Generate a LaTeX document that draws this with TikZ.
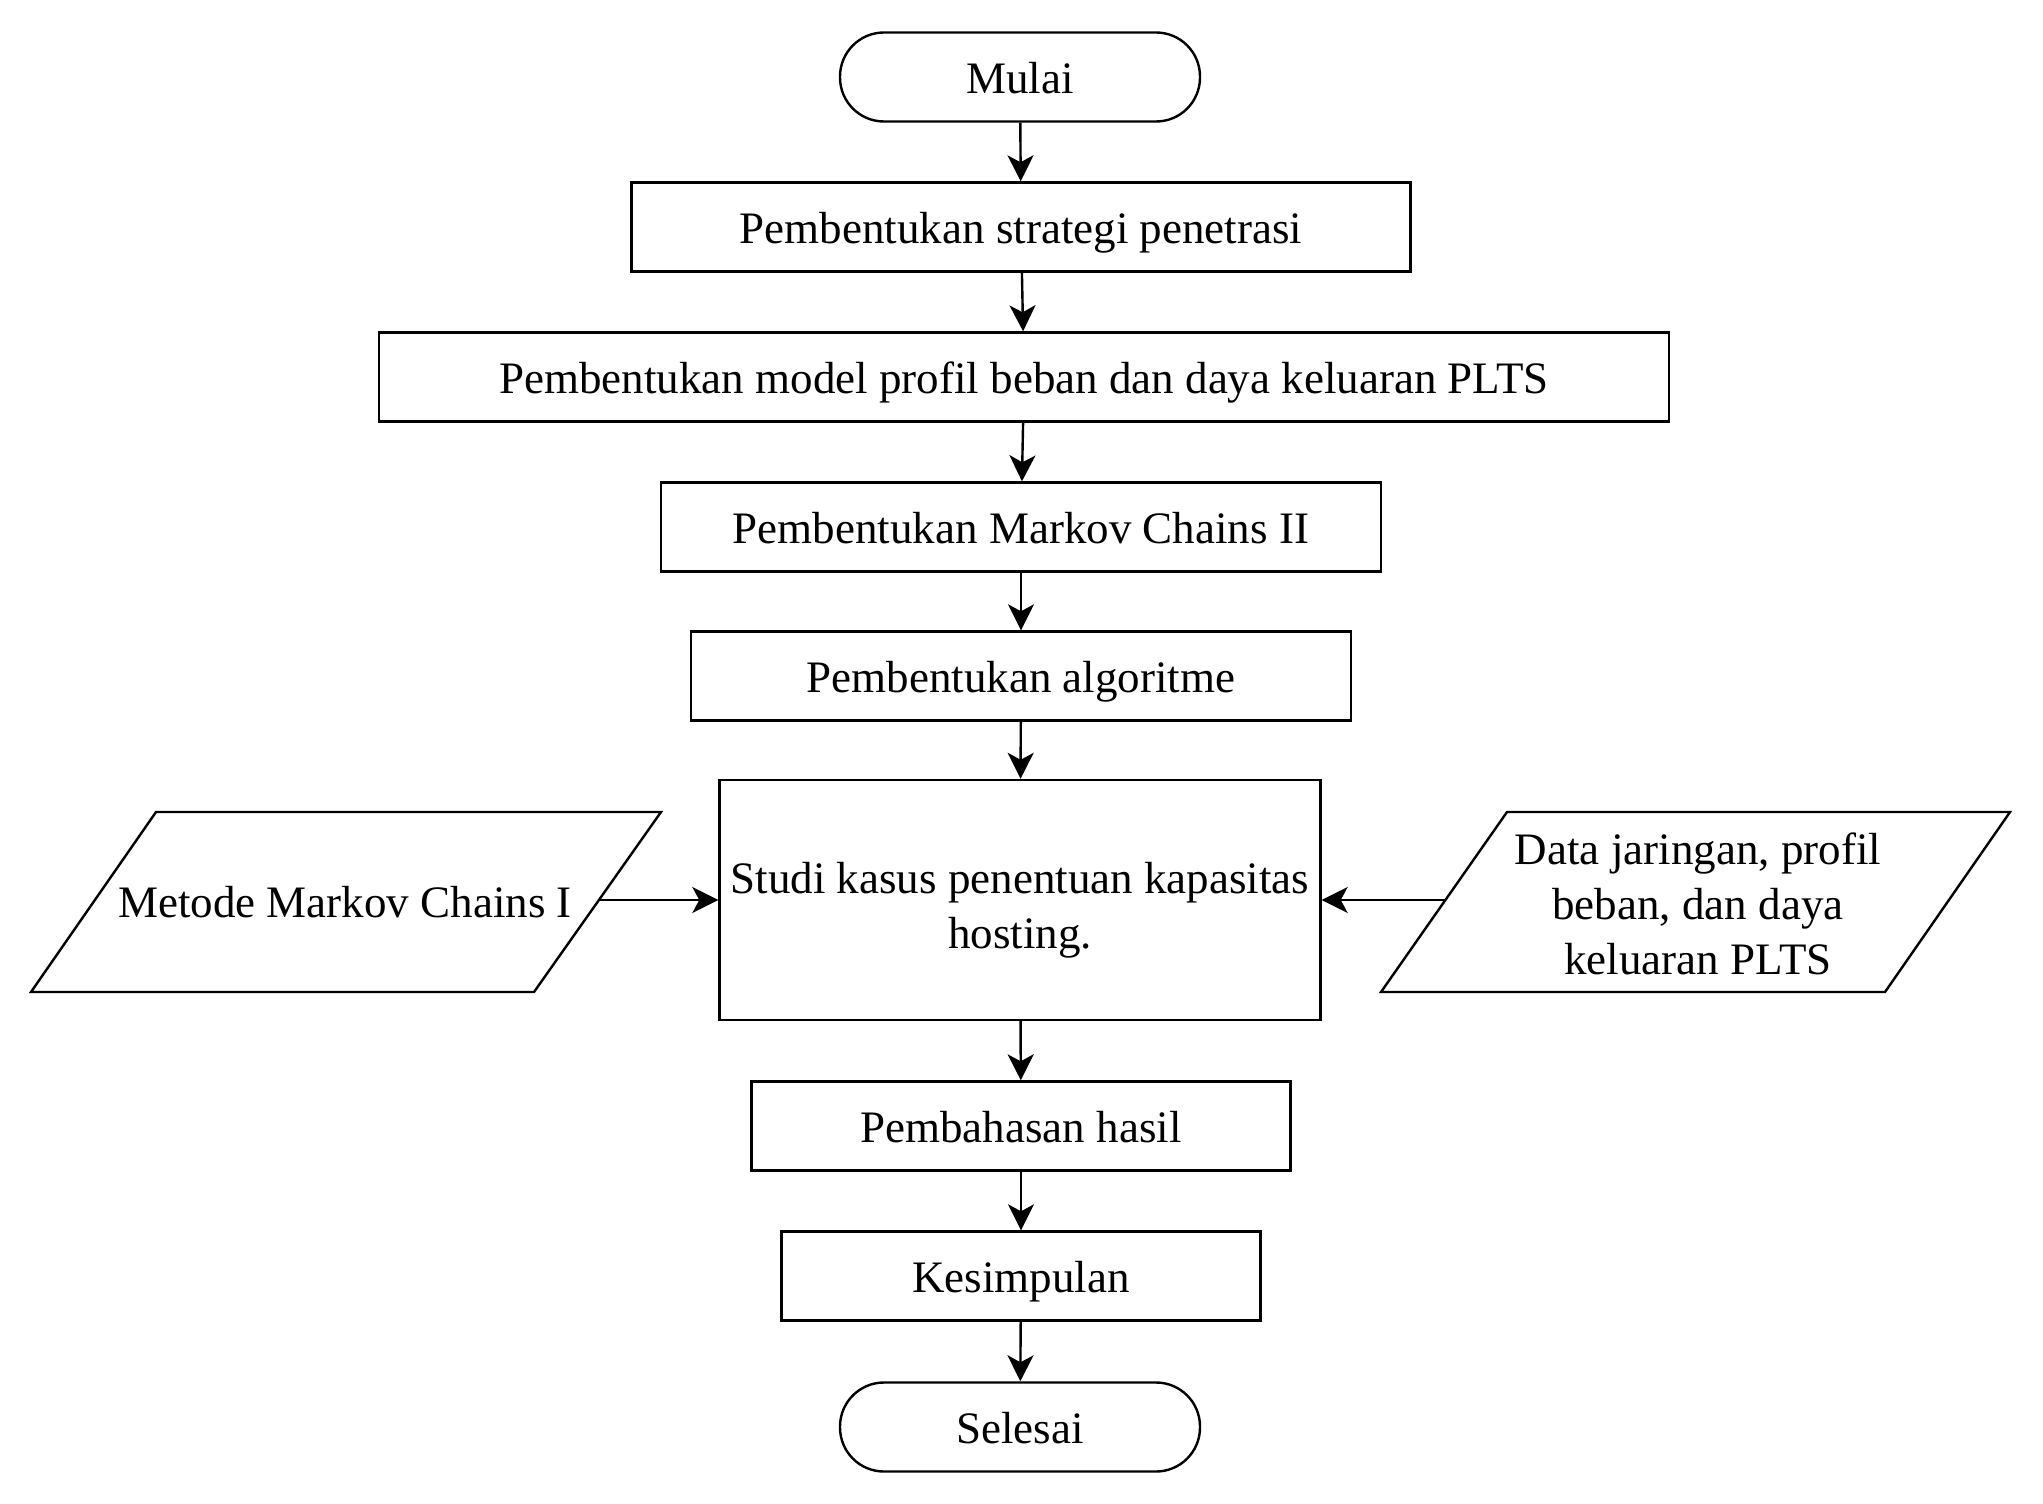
\documentclass[tikz,border=0pt]{standalone}
\usepackage{fontspec}
\setmainfont{Liberation Serif}
\usetikzlibrary{arrows.meta}
\begin{document}
\begin{tikzpicture}[x=0.5pt,y=-0.5pt,
  txt/.style={inner sep=0pt, align=center, font=\fontsize{22.5pt}{27.5pt}\selectfont},
  box/.style={txt, draw, line width=1.2pt, minimum height=44.5pt, text height=20.25pt, text depth=4.05pt},
  term/.style={box, rounded corners=22pt, minimum width=180pt},
  flow/.style={-{Stealth[length=13pt,width=13pt,inset=3.5pt]}, line width=1.2pt},
  io/.style={draw, line width=1.2pt, line join=miter}
]
\fill[white] (0,0) rectangle (2043,1503);
\useasboundingbox (0,0) rectangle (2043,1503);

\node[term] (mulai) at (1020,77) {Mulai};
\node[box, minimum width=389.5pt] (b1) at (1021,227) {Pembentukan strategi penetrasi};
\node[box, minimum width=645pt] (b2) at (1024,377) {Pembentukan model profil beban dan daya keluaran PLTS};
\node[box, minimum width=360pt] (b3) at (1021,527) {Pembentukan Markov Chains II};
\node[box, minimum width=330pt] (b4) at (1021,676) {Pembentukan algoritme};
\node[box, minimum width=300.5pt, minimum height=120pt, text height=48pt, text depth=0pt] (studi) at (1020,900) {Studi kasus penentuan kapasitas\\hosting.};
\node[box, minimum width=269.5pt] (b6) at (1021,1126) {Pembahasan hasil};
\node[box, minimum width=239.5pt] (b7) at (1021,1276) {Kesimpulan};
\node[term] (selesai) at (1020,1427) {Selesai};

% input parallelograms
\draw[io] (156,812) -- (661,812) -- (534,992) -- (31,992) -- cycle;
\node[txt] (metode) at (345,902) {Metode Markov Chains I};
\coordinate (lout) at (600,900);

\draw[io] (1507,812) -- (2010,812) -- (1885,992) -- (1381,992) -- cycle;
\node[txt] (data) at (1698,904) {Data jaringan, profil\\beban, dan daya\\keluaran PLTS};
\coordinate (rout) at (1446,900);

\draw[flow] (mulai) -- (b1);
\draw[flow] (b1) -- (b2);
\draw[flow] (b2) -- (b3);
\draw[flow] (b3) -- (b4);
\draw[flow] (b4) -- (studi);
\draw[flow] (studi) -- (b6);
\draw[flow] (b6) -- (b7);
\draw[flow] (b7) -- (selesai);
\draw[flow] (lout) -- (studi.west);
\draw[flow] (rout) -- (studi.east);
\end{tikzpicture}
\end{document}
